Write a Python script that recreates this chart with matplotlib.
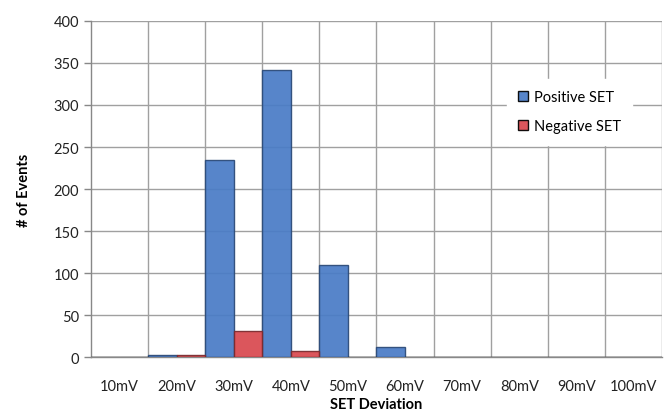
import numpy as np
import matplotlib.pyplot as plt

# ── data ─────────────────────────────────────────────────────────────────────
categories = ['10mV', '20mV', '30mV', '40mV', '50mV', '60mV', '70mV', '80mV', '90mV', '100mV']
positive_set = [0, 2, 235, 342, 110, 12, 0, 0, 0, 0]
negative_set = [0, 2, 31, 7, 0, 0, 0, 0, 0, 0]

plt.rcParams['font.family'] = ['Lato', 'DejaVu Sans']

fig = plt.figure(figsize=(6.69, 4.14), dpi=100)
ax = fig.add_axes([0.136, 0.135, 0.8535, 0.812])

x = np.arange(len(categories))
pos_edges = ['#2b4a78' if v > 0 else 'none' for v in positive_set]
neg_edges = ['#7a2a2e' if v > 0 else 'none' for v in negative_set]
ax.bar(x - 0.25, positive_set, width=0.5, color='#4a7cc6', edgecolor=pos_edges,
       linewidth=1.0, alpha=0.93, zorder=3, label='Positive SET')
ax.bar(x + 0.25, negative_set, width=0.5, color='#d9494f', edgecolor=neg_edges,
       linewidth=1.0, alpha=0.93, zorder=3, label='Negative SET')

ax.set_xlim(-0.5, len(categories) - 0.5)
ax.set_ylim(0, 400)
ax.set_yticks(np.arange(0, 401, 50))
ax.set_xticks(x)
ax.set_xticklabels(categories)
ax.set_xticks(np.arange(len(categories)) + 0.5, minor=True)

ax.grid(axis='y', which='major', color='#a0a0a0', lw=1.0, zorder=0)
ax.grid(axis='x', which='minor', color='#a0a0a0', lw=1.0, zorder=0)
ax.tick_params(axis='x', which='both', length=0, labelsize=10.5, pad=16, colors='#222222')
ax.tick_params(axis='y', length=5, color='#888888', width=1, labelsize=10.5, colors='#222222')

for s in ['top', 'right']:
    ax.spines[s].set_visible(False)
for s in ['left', 'bottom']:
    ax.spines[s].set_color('#888888')
    ax.spines[s].set_linewidth(1.0)

ax.set_ylabel('# of Events', fontsize=10.5, fontweight='bold', labelpad=16)
# x label sits right at the bottom edge, as in the reference
ax_mid = 0.136 + 0.8535 / 2
fig.text(ax_mid, 0.004, 'SET Deviation', fontsize=10.5, fontweight='bold',
         ha='center', va='bottom')

leg = ax.legend(loc='upper left', bbox_to_anchor=(0.715, 0.85), frameon=True,
                fontsize=10.5, handlelength=0.7, handleheight=0.7,
                handletextpad=0.35, labelspacing=1.0, borderpad=0.8)
leg.get_frame().set_edgecolor('white')
leg.get_frame().set_facecolor('white')
leg.get_frame().set_alpha(1.0)
leg.set_zorder(5)

fig.savefig('out.png', dpi=100)
